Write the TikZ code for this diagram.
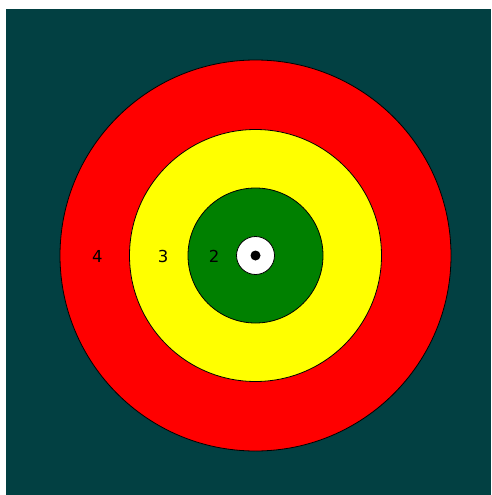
\documentclass[tikz,border=0pt]{standalone}
\usepackage{fontspec}
\setmainfont{DejaVu Sans}
\definecolor{bgteal}{RGB}{2,64,66}
\definecolor{ringred}{RGB}{255,0,0}
\definecolor{ringyellow}{RGB}{255,255,0}
\definecolor{ringgreen}{RGB}{0,128,0}
\begin{document}
\begin{tikzpicture}[x=1pt,y=-1pt,
  ring/.style={draw=black,line width=0.8pt},
  lbl/.style={font=\fontsize{16.5}{18}\selectfont,text=black,inner sep=0pt}]
\useasboundingbox (0,0) rectangle (491,495);
\fill[white] (0,0) rectangle (491,495);
\fill[bgteal] (6,9) rectangle (491,495);
\coordinate (c) at (255.5,255.5);
\path[ring,fill=ringred] (c) circle[radius=195.5];
\path[ring,fill=ringyellow] (c) circle[radius=126];
\path[ring,fill=ringgreen] (c) circle[radius=67.5];
\path[ring,fill=white] (c) circle[radius=19];
\fill[black] (c) circle[radius=5];
\node[lbl] (l4) at (97.3,256.5) {4};
\node[lbl] (l3) at (163,256.5) {3};
\node[lbl] (l2) at (214,256.5) {2};
\end{tikzpicture}
\end{document}
